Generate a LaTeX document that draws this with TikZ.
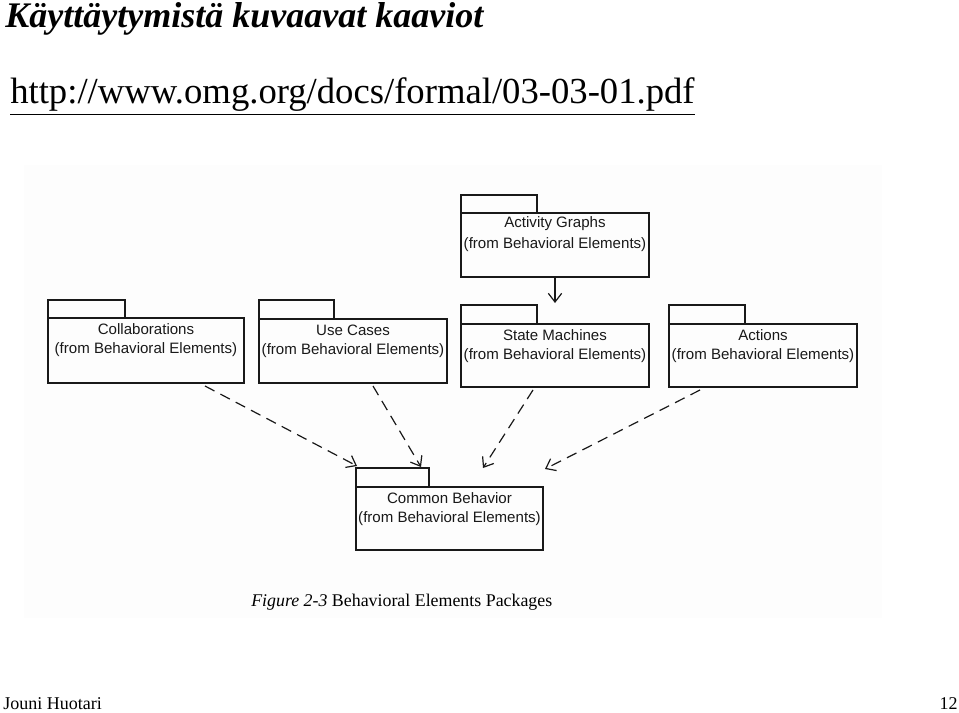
\documentclass[tikz,border=0pt]{standalone}
\usepackage{fontspec}
\setmainfont{Liberation Serif}
\newfontfamily\diagfont{Liberation Sans}
\usetikzlibrary{arrows.meta,calc,fit}
\tikzset{
  pkgline/.style={draw=black!90, line width=0.9pt},
  pkgtext/.style={font=\diagfont\fontsize{11.3}{13}\selectfont, text=black!90, inner sep=0pt},
  dep/.style={draw=black!90, line width=0.9pt, dash pattern=on 8pt off 5pt,
    -{Straight Barb[length=6.5pt,width=10pt,line width=0.9pt]}},
  solidarr/.style={draw=black!90, line width=0.9pt,
    -{Straight Barb[length=6.5pt,width=10pt,line width=0.9pt]}},
}
% #1 name, #2 left x, #3 tab top y, #4 tab right x, #5 body top y, #6 right x, #7 bottom y, #8 title
\newcommand\umlpkg[8]{%
  \draw[pkgline] (#2,#3) rectangle (#4,#5);
  \path (#2,#5) coordinate (#1-nw) (#6,#7) coordinate (#1-se) (#4,#3) coordinate (#1-tabne) (#2,#3) coordinate (#1-tabnw);
  \node[pkgline, fit=(#1-nw)(#1-se), inner sep=0pt, outer sep=0pt] (#1) {};
  \node[pkgtext] (#1-title) at ($(#1.north)+(0,11)$) {#8};
  \node[pkgtext] (#1-from) at ($(#1.north)+(0,32)$) {(from Behavioral Elements)};
}
\begin{document}
\begin{tikzpicture}[x=0.75pt,y=-0.75pt]
\useasboundingbox (0,0) rectangle (959,713);
\fill[white] (0,0) rectangle (959,713);
\fill[black!0.6] (24,165) rectangle (882,618);

\node[anchor=base west, inner sep=0pt, font=\fontsize{27}{30}\selectfont\bfseries\itshape] (title) at (5,28) {Käyttäytymistä kuvaavat kaaviot};
\node[anchor=base west, inner sep=0pt, font=\fontsize{27.5}{30}\selectfont] (url) at (10,104) {\underline{http://www.omg.org/docs/formal/03-03-01.pdf}};

\umlpkg{act}{461}{195}{537}{213}{649}{277}{Activity Graphs}
\umlpkg{col}{48}{300}{125}{318}{244}{383}{Collaborations}
\umlpkg{use}{259}{300}{334}{319}{447}{383}{Use Cases}
\umlpkg{sm}{461}{305}{537}{324}{649}{387}{State Machines}
\umlpkg{acn}{669}{305}{745}{324}{857}{387}{Actions}
\umlpkg{cb}{356}{468}{429}{487}{543}{550}{Common Behavior}

\draw[solidarr] ($(act.south)+(0,0)$) -- ($(sm-tabnw)+(94,-2)$);
\draw[dep] ($(col.south east)+(-39,3)$) -- ($(cb-tabnw)+(1,-2)$);
\draw[dep] ($(use.south west)+(114,3)$) -- ($(cb-tabne)+(-8,-1)$);
\draw[dep] ($(sm.south west)+(72,3)$) -- ($(cb-tabnw)+(127,0)$);
\draw[dep] ($(acn.south west)+(31,3)$) -- ($(cb.north east)+(2,-18)$);

\node[anchor=base west, inner sep=0pt, font=\fontsize{13.4}{15}\selectfont] (caption) at (251,606) {\textit{Figure 2-3} Behavioral Elements Packages};

\node[anchor=base west, inner sep=0pt, font=\fontsize{13.5}{15}\selectfont] (author) at (3,709) {Jouni Huotari};
\node[anchor=base east, inner sep=0pt, font=\fontsize{13.5}{15}\selectfont] (page) at (958,709) {12};
\end{tikzpicture}
\end{document}
